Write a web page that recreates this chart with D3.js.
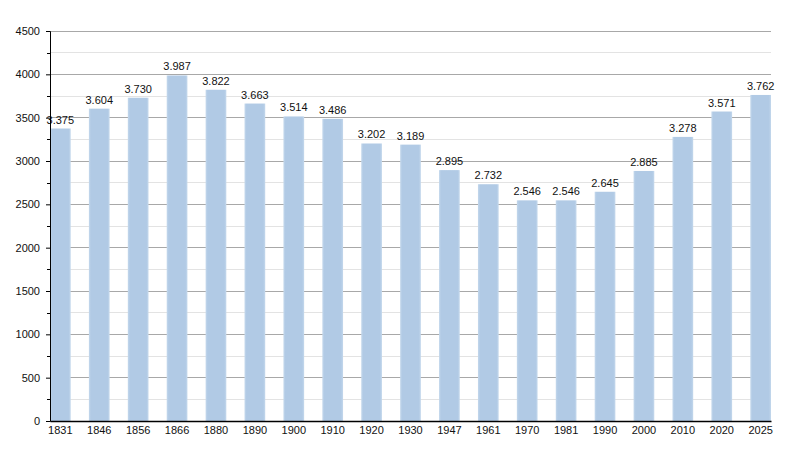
<!DOCTYPE html>
<html><head><meta charset="utf-8">
<script src="https://cdn.jsdelivr.net/npm/d3@7"></script>
<style>body{margin:0;background:#fff}svg{display:block}text{font-family:"Liberation Sans",Arial,sans-serif}</style>
</head><body><svg id="c" width="800" height="450"></svg>
<script>
const years = ["1831","1846","1856","1866","1880","1890","1900","1910","1920","1930","1947","1961","1970","1981","1990","2000","2010","2020","2025"];
const population = [3375,3604,3730,3987,3822,3663,3514,3486,3202,3189,2895,2732,2546,2546,2645,2885,3278,3571,3762];
const yMajorTicks = [0,500,1000,1500,2000,2500,3000,3500,4000,4500];
const yMinorTicks = [250,750,1250,1750,2250,2750,3250,3750,4250];

const svg = d3.select("#c");
const L = 50, R = 771, T = 31, B = 421;
const x = d3.scaleBand().domain(years).range([L, R]).paddingInner(0.468).paddingOuter(0).align(0);
const y = d3.scaleLinear().domain([0, 4500]).range([B, T]);
const fmt = v => d3.format(",")(v).replace(/,/g, ".");

// grid
svg.append("g").selectAll("line").data(yMinorTicks).join("line")
  .attr("x1", L).attr("x2", R).attr("y1", d => y(d)).attr("y2", d => y(d))
  .attr("stroke", "#e3e3e3").attr("stroke-width", 1).attr("shape-rendering","crispEdges");
svg.append("g").selectAll("line").data(yMajorTicks.filter(d => d > 0)).join("line")
  .attr("x1", L).attr("x2", R).attr("y1", d => y(d)).attr("y2", d => y(d))
  .attr("stroke", "#a8a8a8").attr("stroke-width", 1).attr("shape-rendering","crispEdges");

// gradient for soft bar edges
const defs = svg.append("defs");
const g = defs.append("linearGradient").attr("id","bg").attr("x1","0").attr("x2","1").attr("y1","0").attr("y2","0");
g.append("stop").attr("offset","0").attr("stop-color","#c4d8ec");
g.append("stop").attr("offset","0.1").attr("stop-color","#b1cae5");
g.append("stop").attr("offset","0.9").attr("stop-color","#b1cae5");
g.append("stop").attr("offset","1").attr("stop-color","#c4d8ec");

// bars
svg.append("g").selectAll("rect").data(years).join("rect")
  .attr("x", d => x(d)).attr("width", x.bandwidth())
  .attr("y", (d,i) => y(population[i])).attr("height", (d,i) => B - y(population[i]))
  .attr("fill", "url(#bg)");

// value labels
svg.append("g").selectAll("text").data(years).join("text")
  .attr("x", d => x(d) + x.bandwidth()/2).attr("y", (d,i) => y(population[i]) - 5)
  .attr("text-anchor","middle").attr("font-size", 11).attr("fill","#111")
  .text((d,i) => fmt(population[i]));

// y axis
const yAxis = svg.append("g").attr("transform", `translate(${L},0)`)
  .call(d3.axisLeft(y).tickValues(yMajorTicks).tickSize(4).tickPadding(6).tickFormat(d => d));
yAxis.selectAll("text").attr("font-size", 11).attr("fill","#111").attr("font-family","Liberation Sans, Arial, sans-serif");
yAxis.select(".domain").attr("stroke","#000");
yAxis.selectAll(".tick line").attr("stroke","#000");
svg.append("g").selectAll("line").data(yMinorTicks).join("line")
  .attr("x1", L-3).attr("x2", L).attr("y1", d => Math.round(y(d))+0.5).attr("y2", d => Math.round(y(d))+0.5)
  .attr("stroke","#000");

// x axis
const xAxis = svg.append("g").attr("transform", `translate(0,${B})`)
  .call(d3.axisBottom(x).tickSize(0).tickPadding(5));
xAxis.select(".domain").attr("stroke","#000").attr("stroke-width",1.5);
xAxis.selectAll("text").attr("font-size", 11).attr("fill","#111").attr("font-family","Liberation Sans, Arial, sans-serif");
</script></body></html>
